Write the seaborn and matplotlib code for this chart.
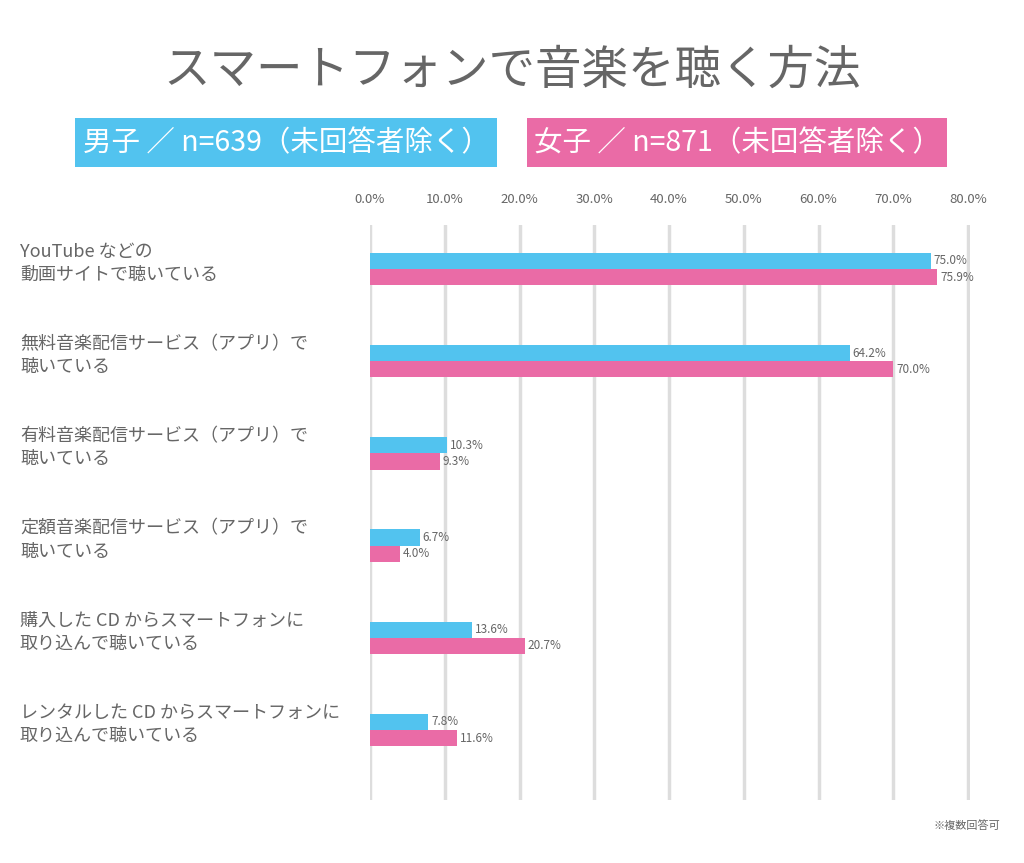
import numpy as np
import pandas as pd
import seaborn as sns
import matplotlib.pyplot as plt
import matplotlib.transforms as mtransforms
from matplotlib.patches import Rectangle

categories = [
    "YouTube などの\n動画サイトで聴いている",
    "無料音楽配信サービス（アプリ）で\n聴いている",
    "有料音楽配信サービス（アプリ）で\n聴いている",
    "定額音楽配信サービス（アプリ）で\n聴いている",
    "購入した CD からスマートフォンに\n取り込んで聴いている",
    "レンタルした CD からスマートフォンに\n取り込んで聴いている",
]
male = [75.0, 64.2, 10.3, 6.7, 13.6, 7.8]
female = [75.9, 70.0, 9.3, 4.0, 20.7, 11.6]
groups = ["男子", "女子"]
legend_labels = ["男子 ／ n=639（未回答者除く）", "女子 ／ n=871（未回答者除く）"]
x_ticks = [0, 10, 20, 30, 40, 50, 60, 70, 80]

BLUE = "#52C3EF"
PINK = "#EA6BA6"
GRAY = "#666666"

sns.set_theme(style="white")
plt.rcParams["font.family"] = ["Noto Sans CJK JP", "DejaVu Sans"]

df = pd.DataFrame({
    "item": categories * 2,
    "group": [groups[0]] * len(categories) + [groups[1]] * len(categories),
    "value": male + female,
})

fig = plt.figure(figsize=(10.24, 8.63), dpi=100)
px = (968 - 370) / 80  # pixels per percent
ax = fig.add_axes([370 / 1024, 1 - 800 / 863, (968 - 370 + 3 * px * 0.1) / 1024,
                   (800 - 225) / 863])

sns.barplot(data=df, y="item", x="value", hue="group", order=categories,
            hue_order=groups, palette=[BLUE, PINK], orient="h", width=0.35,
            saturation=1, legend=False, linewidth=0, ax=ax)

ax.set_xlim(0, 80.3)
ax.set_ylim(5 + 70 / 92.2, -44 / 92.2)
ax.set_xlabel("")
ax.set_ylabel("")
ax.set_yticks([])
ax.xaxis.tick_top()
ax.set_xticks(x_ticks)
ax.set_xticklabels([f"{t:.1f}%" for t in x_ticks], fontsize=9.5, color=GRAY)
ax.tick_params(axis="x", length=0, pad=14)
ax.grid(axis="x", color="#DDDDDD", linewidth=2.5)
ax.set_axisbelow(True)
for s in ax.spines.values():
    s.set_visible(False)

# value labels
for cont, vals in zip(ax.containers, [male, female]):
    ax.bar_label(cont, labels=[f"{v:.1f}%" for v in vals], padding=2,
                 fontsize=8.5, color=GRAY)

# category labels
trans = mtransforms.blended_transform_factory(fig.transFigure, ax.transData)
for i, c in enumerate(categories):
    ax.text(20 / 1024, i - 0.06, c, transform=trans, ha="left", va="center",
            fontsize=13, color=GRAY, linespacing=1.35)

# title
fig.text(0.5, 1 - 70 / 863, "スマートフォンで音楽を聴く方法", ha="center",
         va="center", fontsize=33.5, color=GRAY)

# legend boxes
boxes = [(75, 497, BLUE), (527, 947, PINK)]
for (x0, x1, col), lab in zip(boxes, legend_labels):
    fig.patches.append(Rectangle((x0 / 1024, 1 - 167 / 863), (x1 - x0) / 1024,
                                 49 / 863, transform=fig.transFigure,
                                 facecolor=col, edgecolor="none"))
    fig.text((x0 + x1) / 2 / 1024, 1 - 143 / 863, lab, ha="center",
             va="center", fontsize=20.5, color="white")

fig.text(1000 / 1024, 1 - 826 / 863, "※複数回答可", ha="right", va="center",
         fontsize=8, color=GRAY)

fig.savefig("out.png", dpi=100)
